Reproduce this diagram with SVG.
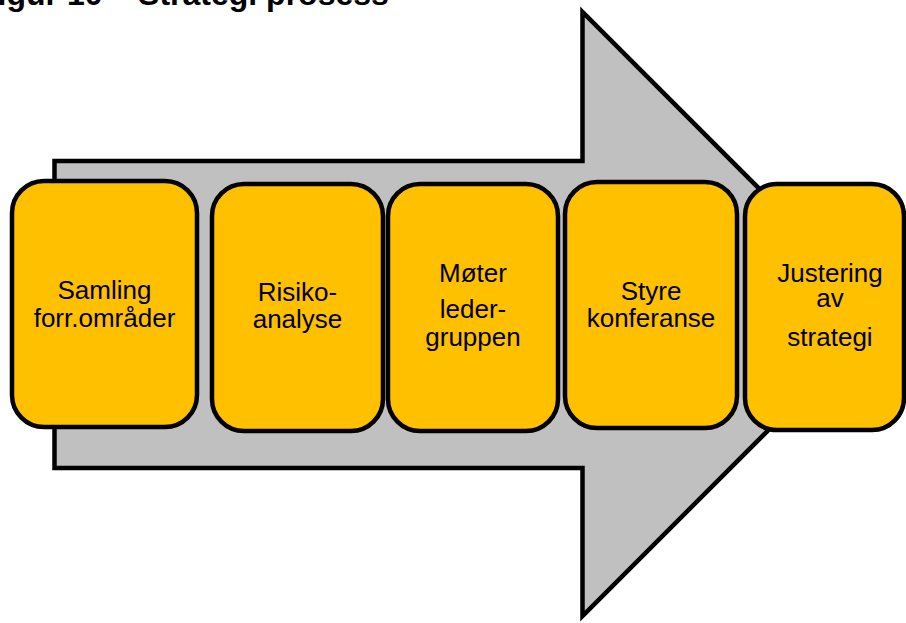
<svg xmlns="http://www.w3.org/2000/svg" width="906" height="623" viewBox="0 0 906 623">
<style>
.box{fill:#FFC000;stroke:#000;stroke-width:4.5}
.arrow{fill:#C0C0C0;stroke:#000;stroke-width:4.5;stroke-linejoin:miter}
.lbl{font-family:"Liberation Sans",Arial,sans-serif;font-size:26px;fill:#000;text-anchor:middle}
.title{font-family:"Liberation Sans",Arial,sans-serif;font-size:32px;font-weight:bold;fill:#000}
</style>
<rect width="906" height="623" fill="#fff"/>
<text class="title" x="-22" y="5">Figur 10 – Strategi prosess</text>
<g id="arrow">
<polygon class="arrow" points="54.5,161 582.5,161 582.5,12 884.5,314 582.5,616 582.5,468 54.5,468"/>
</g>
<g id="connectors"></g>
<g id="n1">
<rect class="box" x="12" y="181" width="185" height="246" rx="32"/>
<text class="lbl" x="104.5" y="299">Samling</text>
<text class="lbl" x="104.5" y="327">forr.områder</text>
</g>
<g id="n2">
<rect class="box" x="212" y="184" width="171" height="247" rx="32"/>
<text class="lbl" x="297.5" y="301">Risiko-</text>
<text class="lbl" x="297.5" y="328">analyse</text>
</g>
<g id="n3">
<rect class="box" x="388" y="184" width="170" height="247" rx="32"/>
<text class="lbl" x="473" y="282">Møter</text>
<text class="lbl" x="473" y="318">leder-</text>
<text class="lbl" x="473" y="346">gruppen</text>
</g>
<g id="n4">
<rect class="box" x="565" y="182" width="172" height="246" rx="32"/>
<text class="lbl" x="651" y="300">Styre</text>
<text class="lbl" x="651" y="327">konferanse</text>
</g>
<g id="n5">
<rect class="box" x="745" y="184" width="159" height="246" rx="32"/>
<text class="lbl" x="830" y="282">Justering</text>
<text class="lbl" x="830" y="307">av</text>
<text class="lbl" x="830" y="346">strategi</text>
</g>
</svg>
